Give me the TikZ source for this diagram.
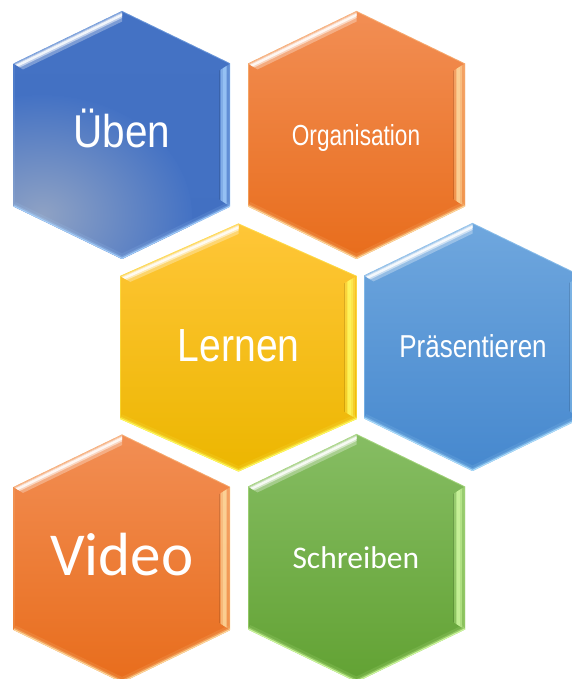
\documentclass[tikz,border=0pt]{standalone}
\usepackage{fontspec}
\newfontfamily\arialf{Liberation Sans}
\newfontfamily\calib{Carlito}
\definecolor{ubTop}{HTML}{4472C4}
\definecolor{ubBot}{HTML}{4270C2}
\definecolor{ubGlow}{HTML}{A9D4FF}
\definecolor{ubGlare}{HTML}{8FA2C4}
\definecolor{orTop}{HTML}{F28E54}
\definecolor{orBot}{HTML}{E86D1C}
\definecolor{orGlow}{HTML}{FFE2A8}
\definecolor{geTop}{HTML}{FFC638}
\definecolor{geBot}{HTML}{ECB600}
\definecolor{geGlow}{HTML}{FFFF66}
\definecolor{blTop}{HTML}{6FA7DE}
\definecolor{blBot}{HTML}{4688CE}
\definecolor{blGlow}{HTML}{B4E4FF}
\definecolor{grTop}{HTML}{86BD63}
\definecolor{grBot}{HTML}{62A233}
\definecolor{grGlow}{HTML}{D8FFA8}
\tikzset{
  hextext/.style={text=white, inner sep=0pt, anchor=base},
}
% #1 cx, #2 cy, #3 xscale, #4 top colour, #5 bottom colour, #6 glow colour, #7 extra code
\newcommand\hexa[7]{%
\begin{scope}[shift={(#1,#2)}, xscale=#3]
  \shade[top color=#4, bottom color=#5] (0,124)--(108.5,71.5)--(108.5,-71.5)--(0,-124)--(-108.5,-71.5)--(-108.5,71.5)--cycle;
  #7
  \begin{scope}
    \clip (0,124)--(108.5,71.5)--(108.5,-71.5)--(0,-124)--(-108.5,-71.5)--(-108.5,71.5)--cycle;
    \draw[#6, line width=10pt, opacity=0.12] (-108.5,-71.5)--(0,-124)--(108.5,-71.5);
    \draw[#6, line width=5pt, opacity=0.3] (-108.5,-71.5)--(0,-124)--(108.5,-71.5);
    \draw[#6, line width=2.2pt, opacity=0.85] (-108.5,-71.5)--(0,-124)--(108.5,-71.5);
    \draw[#6, line width=1.6pt, opacity=0.35] (-108.5,-71.5)--(-108.5,71.5)--(0,124)--(108.5,71.5)--(108.5,-71.5);
  \end{scope}
  % upper-left bevel face
  \begin{scope}
    \clip (-108.5,71.5)--(0,124)--(0,110.67)--(-96.5,63.97)--cycle;
    \begin{scope}[shift={(-108.5,71.5)}, rotate=25.82]
      \draw[white, line width=9pt, opacity=0.3] (-5,-5) -- (135,-5);
      \draw[white, line width=5pt, opacity=0.5] (-5,-3.8) -- (135,-3.8);
      \draw[white, line width=2.4pt, opacity=0.8] (-5,-3.5) -- (135,-3.5);
    \end{scope}
  \end{scope}
  % right bevel face
  \begin{scope}
    \clip (108.5,71.5)--(108.5,-71.5)--(96.5,-63.97)--(96.5,63.97)--cycle;
    \draw[#6, line width=10pt, opacity=0.3] (102.5,-80) -- (102.5,80);
    \draw[#6, line width=6pt, opacity=0.45] (102,-80) -- (102,80);
    \draw[#6, line width=3pt, opacity=0.5] (102,-80) -- (102,80);
    \draw[black, line width=1pt, opacity=0.12] (97,-80) -- (97,80);
  \end{scope}
\end{scope}}

\begin{document}
\begin{tikzpicture}[x=1pt, y=1pt]
\useasboundingbox (0,0) rectangle (572,679);
\fill[white] (0,0) rectangle (572,679);
\clip (0,0) rectangle (572,679);

% row 1
\hexa{122}{544}{1}{ubTop}{ubBot}{ubGlow}{%
  \begin{scope}
    \clip (0,124)--(108.5,71.5)--(108.5,-71.5)--(0,-124)--(-108.5,-71.5)--(-108.5,71.5)--cycle;
    \shade[inner color=ubGlare, outer color=ubTop] (-80,-80) ellipse (150 and 120);
  \end{scope}}
\hexa{356.5}{544}{1}{orTop}{orBot}{orGlow}{}
% row 2
\hexa{238.5}{331.5}{1.092}{geTop}{geBot}{geGlow}{}
\hexa{472.5}{332}{1}{blTop}{blBot}{blGlow}{}
% row 3
\hexa{122}{120.5}{1}{orTop}{orBot}{orGlow}{}
\hexa{356.5}{121}{1}{grTop}{grBot}{grGlow}{}

% texts
\node[hextext] (ueben) at (122,531.5) {\fontsize{46}{46}\selectfont\arialf\scalebox{0.88}[1]{Üben}};
\node[hextext] (orga) at (356,533.3) {\fontsize{29}{29}\selectfont\arialf\scalebox{0.78}[1]{Organisation}};
\node[hextext] (lernen) at (238.7,317.3) {\fontsize{46.5}{46.5}\selectfont\arialf\scalebox{0.84}[1]{Lernen}};
\node[hextext] (praes) at (473,321.3) {\fontsize{31.7}{31.7}\selectfont\arialf\scalebox{0.82}[1]{Präsentieren}};
\node[hextext] (video) at (121.7,103) {\fontsize{61}{61}\selectfont\calib Video};
\node[hextext] (schreiben) at (355.8,110.7) {\fontsize{31.5}{31.5}\selectfont\calib Schreiben};
\end{tikzpicture}
\end{document}
